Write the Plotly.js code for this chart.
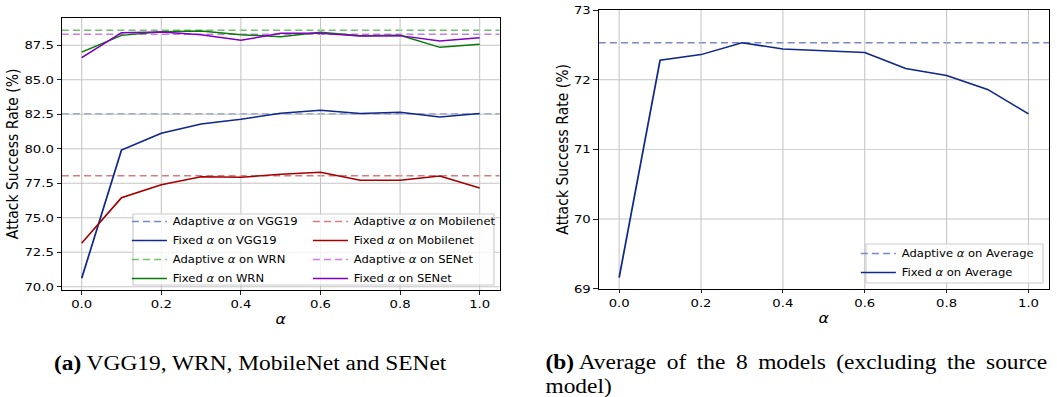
<!DOCTYPE html>
<html>
<head>
<meta charset="utf-8">
<script src="https://cdn.plot.ly/plotly-3.0.1.min.js"></script>
<style>
  html, body { margin: 0; padding: 0; background: #ffffff; }
  #wrap { width: 1057px; height: 397px; overflow: hidden; }
  #plot { width: 903px; height: 397px; transform: scaleX(1.1705); transform-origin: 0 0; }
</style>
</head>
<body>
<div id="wrap"><div id="plot"></div></div>
<script>
// ---- data ----
const alpha = [0.0, 0.1, 0.2, 0.3, 0.4, 0.5, 0.6, 0.7, 0.8, 0.9, 1.0];

const fixedVGG19     = [70.61, 79.90, 81.12, 81.80, 82.14, 82.57, 82.79, 82.55, 82.65, 82.30, 82.55];
const fixedWRN       = [87.01, 88.22, 88.49, 88.54, 88.27, 88.12, 88.44, 88.20, 88.22, 87.35, 87.57];
const fixedMobilenet = [73.16, 76.45, 77.39, 77.97, 77.93, 78.15, 78.29, 77.71, 77.71, 78.02, 77.15];
const fixedSENet     = [86.60, 88.41, 88.46, 88.27, 87.86, 88.37, 88.37, 88.17, 88.20, 87.81, 88.05];

const adaptiveVGG19 = 82.52;
const adaptiveWRN = 88.59;
const adaptiveMobilenet = 78.04;
const adaptiveSENet = 88.30;

const fixedAverage = [69.16, 72.28, 72.36, 72.53, 72.44, 72.41, 72.39, 72.16, 72.06, 71.86, 71.51];
const adaptiveAverage = 72.53;

const xTicks = [0.0, 0.2, 0.4, 0.6, 0.8, 1.0];
const yTicksLeft = [70.0, 72.5, 75.0, 77.5, 80.0, 82.5, 85.0, 87.5];
const yTicksRight = [69, 70, 71, 72, 73];

const captionA = '<b>(a)</b> VGG19, WRN, MobileNet and SENet';
const captionB1 = '<b>(b)</b> Average\u2009 of\u2009 the\u2009 8\u2009 models\u2009 (excluding\u2009 the\u2009 source';
const captionB2 = 'model)';

// ---- styles ----
const FONT = 'DejaVu Sans';
const C = {
  vgg: '#10288a', vggA: '#7b87c5',
  wrn: '#0a7a0a', wrnA: '#70c070',
  mob: '#a50000', mobA: '#d47c7c',
  sen: '#8000c0', senA: '#c57ee2',
  avg: '#10288a', avgA: '#7b87c5'
};
const DASH = '6px,3.5px';
const W = 1057, H = 397;
const px = v => v / W;
const py = v => (H - v) / H;

function fixedTrace(y, name, color, xa, ya, legend, rank) {
  return {
    type: 'scatter', mode: 'lines', x: alpha, y: y, name: name,
    line: { color: color, width: 1.5 },
    xaxis: xa, yaxis: ya, legend: legend, legendrank: rank, hoverinfo: 'skip'
  };
}
function adaptiveShape(v, name, color, xref, yref, legend, rank) {
  return {
    type: 'line', xref: xref + ' domain', x0: 0, x1: 1, yref: yref, y0: v, y1: v,
    line: { color: color, width: 1.5, dash: DASH }, layer: 'below',
    showlegend: true, name: name, legend: legend, legendrank: rank
  };
}

const traces = [
  fixedTrace(fixedVGG19, 'Fixed <i>α</i> on VGG19', C.vgg, 'x', 'y', 'legend', 2),
  fixedTrace(fixedWRN, 'Fixed <i>α</i> on WRN', C.wrn, 'x', 'y', 'legend', 4),
  fixedTrace(fixedMobilenet, 'Fixed <i>α</i> on Mobilenet', C.mob, 'x', 'y', 'legend2', 2),
  fixedTrace(fixedSENet, 'Fixed <i>α</i> on SENet', C.sen, 'x', 'y', 'legend2', 4),
  fixedTrace(fixedAverage, 'Fixed <i>α</i> on Average', C.avg, 'x2', 'y2', 'legend3', 2)
];

const shapes = [
  adaptiveShape(adaptiveVGG19, 'Adaptive <i>α</i> on VGG19', C.vggA, 'x', 'y', 'legend', 1),
  adaptiveShape(adaptiveWRN, 'Adaptive <i>α</i> on WRN', C.wrnA, 'x', 'y', 'legend', 3),
  adaptiveShape(adaptiveMobilenet, 'Adaptive <i>α</i> on Mobilenet', C.mobA, 'x', 'y', 'legend2', 1),
  adaptiveShape(adaptiveSENet, 'Adaptive <i>α</i> on SENet', C.senA, 'x', 'y', 'legend2', 3),
  adaptiveShape(adaptiveAverage, 'Adaptive <i>α</i> on Average', C.avgA, 'x2', 'y2', 'legend3', 1),
  // legend frames
  { type: 'rect', xref: 'paper', yref: 'paper', x0: px(133), x1: px(494), y0: py(285), y1: py(214),
    fillcolor: 'rgba(255,255,255,0.8)', line: { color: '#cccccc', width: 1 }, layer: 'above' },
  { type: 'rect', xref: 'paper', yref: 'paper', x0: px(866), x1: px(1043), y0: py(283), y1: py(244),
    fillcolor: 'rgba(255,255,255,0.8)', line: { color: '#cccccc', width: 1 }, layer: 'above' }
];

const tickFont = { family: FONT, size: 11.3, color: '#000000' };
function xAxis(domain, anchor) {
  return {
    domain: domain, anchor: anchor, range: [-0.05, 1.05],
    tickvals: xTicks, tickformat: '.1f', tickfont: tickFont,
    ticks: 'outside', ticklen: 3.5, tickwidth: 0.8, tickcolor: '#000',
    showgrid: true, gridcolor: '#c4c4c4', gridwidth: 0.9,
    showline: true, linecolor: '#000', linewidth: 1, mirror: true, zeroline: false,
    title: { text: '<i>α</i>', font: { family: FONT, size: 13.5, color: '#000' }, standoff: 4 }
  };
}
function yAxis(domain, anchor, range, vals, fmt) {
  return {
    domain: domain, anchor: anchor, range: range,
    tickvals: vals, tickformat: fmt, tickfont: tickFont,
    ticks: 'outside', ticklen: 3.5, tickwidth: 0.8, tickcolor: '#000',
    showgrid: true, gridcolor: '#c4c4c4', gridwidth: 0.9,
    showline: true, linecolor: '#000', linewidth: 1, mirror: true, zeroline: false,
    title: { text: 'Attack Success Rate (%)', font: { family: FONT, size: 14, color: '#000' }, standoff: 1 }
  };
}

const legendBase = {
  xanchor: 'left', yanchor: 'top', bgcolor: 'rgba(0,0,0,0)', borderwidth: 0,
  font: { family: FONT, size: 9.9, color: '#000' }, tracegroupgap: 0, orientation: 'v'
};

const layout = {
  width: 903, height: 397,
  margin: { l: 0, r: 0, t: 0, b: 0 },
  paper_bgcolor: '#ffffff', plot_bgcolor: '#ffffff',
  font: { family: FONT, color: '#000' },
  showlegend: true,
  xaxis: xAxis([px(61.8), px(499.6)], 'y'),
  yaxis: yAxis([py(290), py(17.7)], 'x', [69.76, 89.5], yTicksLeft, '.1f'),
  xaxis2: xAxis([px(598.7), px(1049)], 'y2'),
  yaxis2: yAxis([py(288.7), py(10)], 'x2', [69, 73], yTicksRight, 'd'),
  legend: Object.assign({}, legendBase, { x: px(126), y: py(207) }),
  legend2: Object.assign({}, legendBase, { x: px(307), y: py(207) }),
  legend3: Object.assign({}, legendBase, { x: px(855), y: py(239) }),
  shapes: shapes,
  annotations: [
    { text: captionA, xref: 'paper', yref: 'paper', x: px(51.7), y: py(363), xanchor: 'left', yanchor: 'middle',
      showarrow: false, font: { family: 'Liberation Serif', size: 20, color: '#000' } },
    { text: captionB1, xref: 'paper', yref: 'paper', x: px(543), y: py(362.5), xanchor: 'left', yanchor: 'middle',
      showarrow: false, font: { family: 'Liberation Serif', size: 20, color: '#000' } },
    { text: captionB2, xref: 'paper', yref: 'paper', x: px(543), y: py(386), xanchor: 'left', yanchor: 'middle',
      showarrow: false, font: { family: 'Liberation Serif', size: 20, color: '#000' } }
  ]
};

Plotly.newPlot('plot', traces, layout, { staticPlot: true, displayModeBar: false });
</script>
</body>
</html>
